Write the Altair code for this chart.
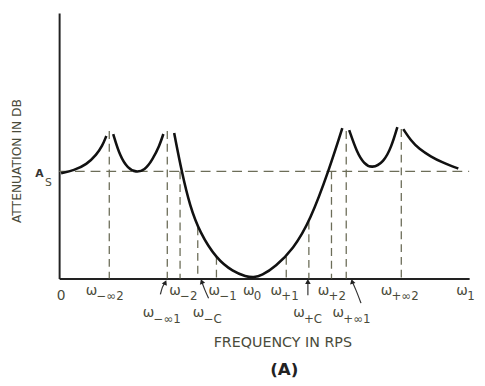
import altair as alt
import pandas as pd

# ---- data (frequency units / attenuation units) ----
AS_LEVEL = 109

curve_ids = [1] * 6 + [2] * 8 + [3] * 14 + [4] * 7 + [5] * 7
curve_x = [2, 15, 28, 38, 44, 48,
           55, 62, 70, 78, 87, 95, 102, 106,
           117, 125, 133, 143, 160, 177, 190, 198, 206, 220, 238, 255, 275, 288,
           295, 303, 310, 318, 330, 338, 344,
           350, 358, 366, 378, 390, 400, 406]
curve_y = [107, 110, 116, 126, 135, 145,
           147, 124, 112, 108, 110, 121, 135, 147,
           148, 107, 74, 47, 20, 7, 2, 1, 3, 12, 30, 58, 112, 153,
           151, 128, 117, 112, 118, 134, 154,
           152, 140, 132, 124, 118, 114, 112]

tick_names = ["ω-∞2", "ω-∞1", "ω-2", "ω-C", "ω-1", "ω+1", "ω+C", "ω+2", "ω+∞1", "ω+∞2"]
tick_x = [51, 110, 123, 141, 160, 231, 254, 277, 292, 348]
tick_top = [150, 150, 109, 52, 22, 22, 58, 109, 150, 152]

row1_sub = ["−∞2", "−2", "−1", "0", "+1", "+2", "+∞2", "1"]
row1_x = [27, 112, 152, 187, 215, 263, 327, 404]
row2_sub = ["−∞1", "−C", "+C", "+∞1"]
row2_x = [85, 136, 238, 278]

arrow_id = [1, 1, 1, 2, 2, 2, 3, 3, 4, 4, 4]
arrow_x = [103, 105, 108, 152, 148, 145, 253, 253, 307, 302, 298]
arrow_y = [-16, -9, -4, -20, -11, -3, -17, -3, -25, -12, -3]
head_x = [108, 145, 253, 298]
head_y = [-4, -3, -3, -3]
head_angle = [25, 340, 0, 345]

# ---- tables ----
curves = pd.DataFrame({"c": curve_ids, "f": curve_x, "a": curve_y})
ticks = pd.DataFrame({"name": tick_names, "f": tick_x, "top": tick_top})
row1 = pd.DataFrame({"f": row1_x, "sub": row1_sub, "w": ["ω"] * len(row1_x)})
row2 = pd.DataFrame({"f": row2_x, "sub": row2_sub, "w": ["ω"] * len(row2_x)})
arrows = pd.DataFrame({"id": arrow_id, "f": arrow_x, "a": arrow_y,
                       "o": list(range(len(arrow_x)))})
heads = pd.DataFrame({"f": head_x, "a": head_y, "ang": head_angle})

XMAX, YMAX = 417, 270
xs = alt.Scale(domain=[0, XMAX], nice=False, zero=False)
ys = alt.Scale(domain=[0, YMAX], nice=False, zero=False)

LBL = "#4a4b3a"
DASH = "#6c6d58"
FONT = "DejaVu Sans"

base = alt.Chart(curves).encode(
    x=alt.X("f:Q", scale=xs,
            axis=alt.Axis(title="FREQUENCY IN RPS", labels=False, ticks=False, grid=False,
                          domainColor="#222", domainWidth=2, titleX=227, titleY=65,
                          titleAlign="center", titleBaseline="middle", titleFont=FONT,
                          titleFontSize=14.5, titleFontWeight="normal", titleColor=LBL)),
    y=alt.Y("a:Q", scale=ys,
            axis=alt.Axis(title="ATTENUATION IN DB", labels=False, ticks=False, grid=False,
                          domainColor="#222", domainWidth=2, titleX=-43, titleY=150,
                          titleAlign="center", titleBaseline="middle", titleFont=FONT,
                          titleFontSize=12.5, titleFontWeight="normal", titleColor=LBL)),
)

curve_layer = base.mark_line(color="#111", strokeWidth=2.6, interpolate="basis").encode(
    detail="c:N")

as_line = alt.Chart(pd.DataFrame({"a": [AS_LEVEL]})).mark_rule(
    color=DASH, strokeWidth=1.3, strokeDash=[10, 6]).encode(
    y=alt.Y("a:Q", scale=ys), x=alt.datum(0), x2=alt.datum(XMAX))

vlines = alt.Chart(ticks).mark_rule(color=DASH, strokeWidth=1.3, strokeDash=[8, 5]).encode(
    x=alt.X("f:Q", scale=xs), y=alt.Y("top:Q", scale=ys), y2=alt.datum(0))

w1 = alt.Chart(row1).mark_text(align="left", baseline="alphabetic", font=FONT,
                               fontSize=14, color=LBL).encode(
    x=alt.X("f:Q", scale=xs), y=alt.value(287), text="w:N")
s1 = alt.Chart(row1).mark_text(align="left", baseline="alphabetic", font=FONT,
                               fontSize=12, color=LBL, dx=11).encode(
    x=alt.X("f:Q", scale=xs), y=alt.value(292), text="sub:N")
w2 = alt.Chart(row2).mark_text(align="left", baseline="alphabetic", font=FONT,
                               fontSize=14, color=LBL).encode(
    x=alt.X("f:Q", scale=xs), y=alt.value(309), text="w:N")
s2 = alt.Chart(row2).mark_text(align="left", baseline="alphabetic", font=FONT,
                               fontSize=12, color=LBL, dx=11).encode(
    x=alt.X("f:Q", scale=xs), y=alt.value(315), text="sub:N")

zero_lbl = alt.Chart(pd.DataFrame({"f": [2], "t": ["0"]})).mark_text(
    align="center", baseline="alphabetic", font=FONT, fontSize=14, color=LBL).encode(
    x=alt.X("f:Q", scale=xs), y=alt.value(292), text="t:N")

as_a = alt.Chart(pd.DataFrame({"t": ["A"]})).mark_text(
    align="center", baseline="middle", font=FONT, fontSize=11, fontWeight="bold",
    color="#333").encode(x=alt.value(-20), y=alt.datum(AS_LEVEL - 3), text="t:N")
as_s = alt.Chart(pd.DataFrame({"t": ["S"]})).mark_text(
    align="center", baseline="middle", font=FONT, fontSize=11, color=LBL).encode(
    x=alt.value(-11), y=alt.datum(AS_LEVEL - 12), text="t:N")

arrow_lines = alt.Chart(arrows).mark_line(color="#333", strokeWidth=1.2,
                                          interpolate="monotone").encode(
    x=alt.X("f:Q", scale=xs), y=alt.Y("a:Q", scale=ys), detail="id:N", order="o:Q")
arrow_heads = alt.Chart(heads).mark_point(shape="triangle-up", filled=True, size=32,
                                          color="#222", opacity=1).encode(
    x=alt.X("f:Q", scale=xs), y=alt.Y("a:Q", scale=ys), angle=alt.Angle("ang:Q", scale=None))

cap = alt.Chart(pd.DataFrame({"t": ["(A)"]})).mark_text(
    align="center", baseline="middle", font=FONT, fontSize=17, fontWeight="bold",
    color="#222").encode(x=alt.value(229), y=alt.value(363), text="t:N")

chart = alt.layer(
    as_line, vlines, curve_layer, arrow_lines, arrow_heads,
    w1, s1, w2, s2, zero_lbl, as_a, as_s, cap
).properties(
    width=XMAX, height=YMAX,
    background="white",
    autosize=alt.AutoSizeParams(type="none"),
    padding={"left": 52, "top": 2, "right": 8, "bottom": 100},
).configure_view(strokeWidth=0, stroke=None)

chart.save("out.html", embed_options={"renderer": "svg", "actions": False})
